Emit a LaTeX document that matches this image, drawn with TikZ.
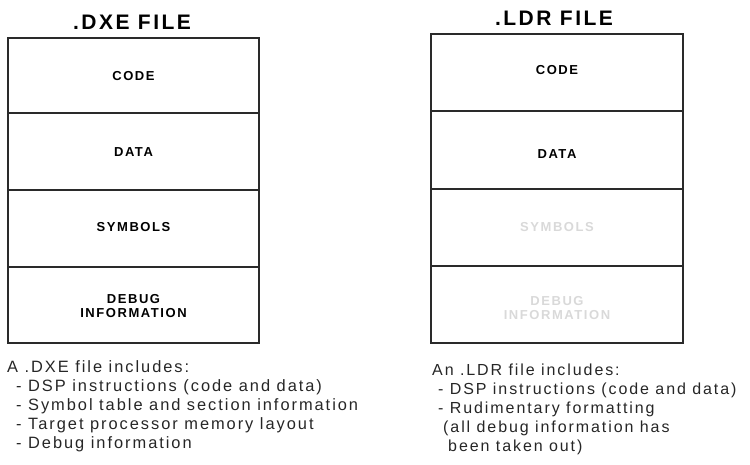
\documentclass[tikz,border=0pt]{standalone}
\usepackage{fontspec}
\setmainfont{Liberation Sans}[LetterSpace=12]
\definecolor{edge}{HTML}{2A2A2A}
\definecolor{faded}{HTML}{D9D9D9}
\tikzset{
  frame/.style={draw=edge, line width=1.8pt},
  heading/.style={font=\fontsize{21}{24}\selectfont\bfseries, inner sep=0pt},
  seg/.style={font=\fontsize{13}{15}\selectfont\bfseries, inner sep=0pt, align=center},
  fadedseg/.style={seg, text=faded},
  note/.style={font=\fontsize{16.4}{19}\selectfont, inner sep=0pt, anchor=base west, text=black!85},
  rnote/.style={note, font=\fontsize{16}{19}\selectfont},
}
\begin{document}
\begin{tikzpicture}[x=1pt, y=-1pt]
  \useasboundingbox (0,0) rectangle (750,465);

  % .DXE file layout
  \node[heading] (dxetitle) at (132,22) {.DXE FILE};
  \coordinate (dxeA) at (8,38);
  \coordinate (dxeB) at (259,343);
  \draw[frame] (dxeA) rectangle (dxeB);
  \draw[frame] (8,113) -- (259,113);
  \draw[frame] (8,190) -- (259,190);
  \draw[frame] (8,267) -- (259,267);
  \node[seg] (dxecode) at (133.5,76) {CODE};
  \node[seg] (dxedata) at (133.5,152) {DATA};
  \node[seg] (dxesym) at (133.5,227) {SYMBOLS};
  \node[seg] (dxedbg) at (133.5,306) {DEBUG\\[-1pt]INFORMATION};

  % .LDR file layout
  \node[heading] (ldrtitle) at (554,18) {.LDR FILE};
  \coordinate (ldrA) at (431,34);
  \coordinate (ldrB) at (683,343);
  \draw[frame] (ldrA) rectangle (ldrB);
  \draw[frame] (431,111) -- (683,111);
  \draw[frame] (431,189) -- (683,189);
  \draw[frame] (431,266) -- (683,266);
  \node[seg] (ldrcode) at (557,70) {CODE};
  \node[seg] (ldrdata) at (557,154) {DATA};
  \node[fadedseg] (ldrsym) at (557,227) {SYMBOLS};
  \node[fadedseg] (ldrdbg) at (557,308) {DEBUG\\[-1pt]INFORMATION};

  % descriptions
  \node[note] (dxe1) at (7,372) {A .DXE file includes:};
  \node[note] (dxe2) at (16,391) {- DSP instructions (code and data)};
  \node[note] (dxe3) at (16,410) {- Symbol table and section information};
  \node[note] (dxe4) at (16,429) {- Target processor memory layout};
  \node[note] (dxe5) at (16,448) {- Debug information};

  \node[rnote] (ldr1) at (432,375) {An .LDR file includes:};
  \node[rnote] (ldr2) at (438,394) {- DSP instructions (code and data)};
  \node[rnote] (ldr3) at (438,413) {- Rudimentary formatting};
  \node[rnote] (ldr4) at (443,432) {(all debug information has};
  \node[rnote] (ldr5) at (448,451) {been taken out)};
\end{tikzpicture}
\end{document}
